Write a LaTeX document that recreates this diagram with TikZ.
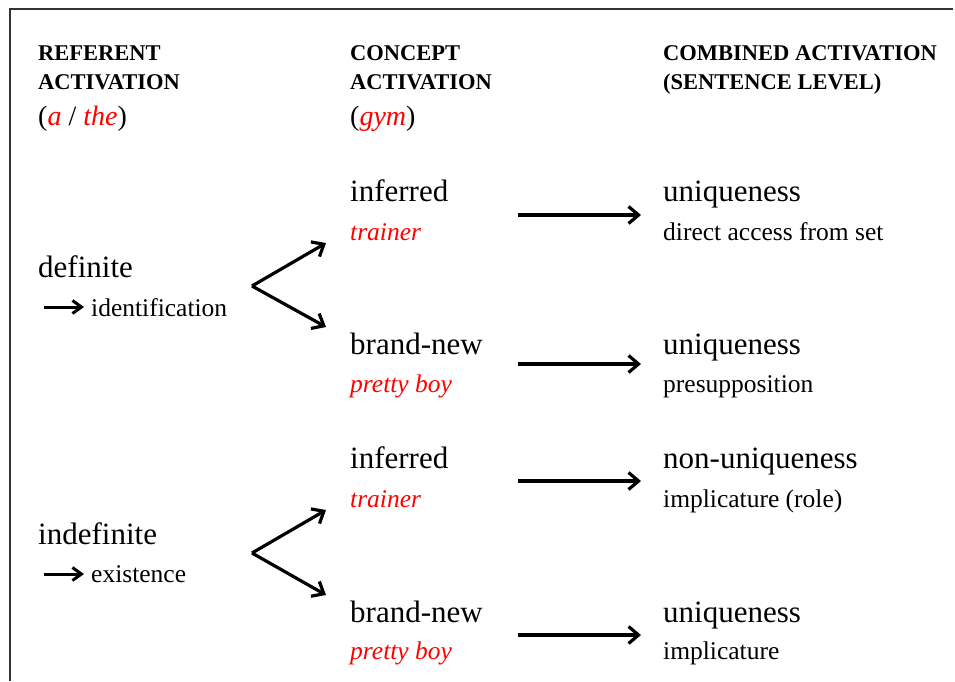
\documentclass[tikz,border=0pt]{standalone}
\usepackage{fontspec}
\setmainfont{Liberation Serif}
\usetikzlibrary{arrows.meta}

\begin{document}
\begin{tikzpicture}
[x=1pt,y=-1pt,
head/.style={anchor=base west,inner sep=0pt,font=\bfseries\fontsize{22.5}{27}\selectfont},
gloss/.style={anchor=base west,inner sep=0pt,font=\fontsize{28}{32}\selectfont},
term/.style={anchor=base west,inner sep=0pt,font=\fontsize{31}{36}\selectfont},
note/.style={anchor=base west,inner sep=0pt,font=\fontsize{25.5}{30}\selectfont},
ex/.style={anchor=base west,inner sep=0pt,text=red,font=\itshape\fontsize{25.5}{30}\selectfont},
link/.style={-{Straight Barb[length=10pt,width=17pt]},line width=3.2pt},
small/.style={-{Straight Barb[length=9pt,width=13pt]},line width=3pt}]
\useasboundingbox (0,0) rectangle (955,681);
\draw[line width=1.6pt,black!80] (953,9) -- (10,9) -- (10,681);

% headings
\node at (38,60) [head] (h1a) {REFERENT};
\node at (38,89) [head] (h1b) {ACTIVATION};
\node at (38,125) [gloss] (h1c) {(\textcolor{red}{\itshape a} / \textcolor{red}{\itshape the})};
\node at (350,60) [head] (h2a) {CONCEPT};
\node at (350,89) [head] (h2b) {ACTIVATION};
\node at (350,125) [gloss] (h2c) {(\textcolor{red}{\itshape gym})};
\node at (663,60) [head] (h3a) {COMBINED ACTIVATION};
\node at (663,89) [head] (h3b) {(SENTENCE LEVEL)};

% referent
\node at (38,277) [term] (def) {definite};
\node at (91,316) [note] (ident) {identification};
\node at (38,544) [term] (indef) {indefinite};
\node at (91,582) [note] (exist) {existence};
\draw[small] ([shift={(-47,-9)}]ident.base west) -- ([shift={(-7,-9)}]ident.base west);
\draw[small] ([shift={(-47,-8)}]exist.base west) -- ([shift={(-7,-8)}]exist.base west);

% concept
\node at (350,201) [term] (inf1) {inferred};
\node at (350,240) [ex] (tr1) {trainer};
\node at (350,354) [term] (bn1) {brand-new};
\node at (350,392) [ex] (pb1) {pretty boy};
\node at (350,468) [term] (inf2) {inferred};
\node at (350,507) [ex] (tr2) {trainer};
\node at (350,622) [term] (bn2) {brand-new};
\node at (350,659) [ex] (pb2) {pretty boy};

\coordinate (f1) at (252,286);
\coordinate (f2) at (252,553);
\draw[link] (f1) -- ([shift={(-24,3)}]tr1.base west);
\draw[link] (f1) -- ([shift={(-24,-27)}]bn1.base west);
\draw[link] (f2) -- ([shift={(-24,3)}]tr2.base west);
\draw[link] (f2) -- ([shift={(-24,-27)}]bn2.base west);

% combined
\node at (663,201) [term] (u1) {uniqueness};
\node at (663,240) [note] (r1) {direct access from set};
\node at (663,354) [term] (u2) {uniqueness};
\node at (663,392) [note] (r2) {presupposition};
\node at (663,468) [term] (u3) {non-uniqueness};
\node at (663,507) [note] (r3) {implicature (role)};
\node at (663,622) [term] (u4) {uniqueness};
\node at (663,659) [note] (r4) {implicature};

\foreach \n/\y in {1/215,2/364,3/481,4/635}{
  \coordinate (s\n) at (518,\y);
  \draw[link,shorten >=22pt] (s\n) -- (s\n -| u\n.west);
}
\end{tikzpicture}
\end{document}
